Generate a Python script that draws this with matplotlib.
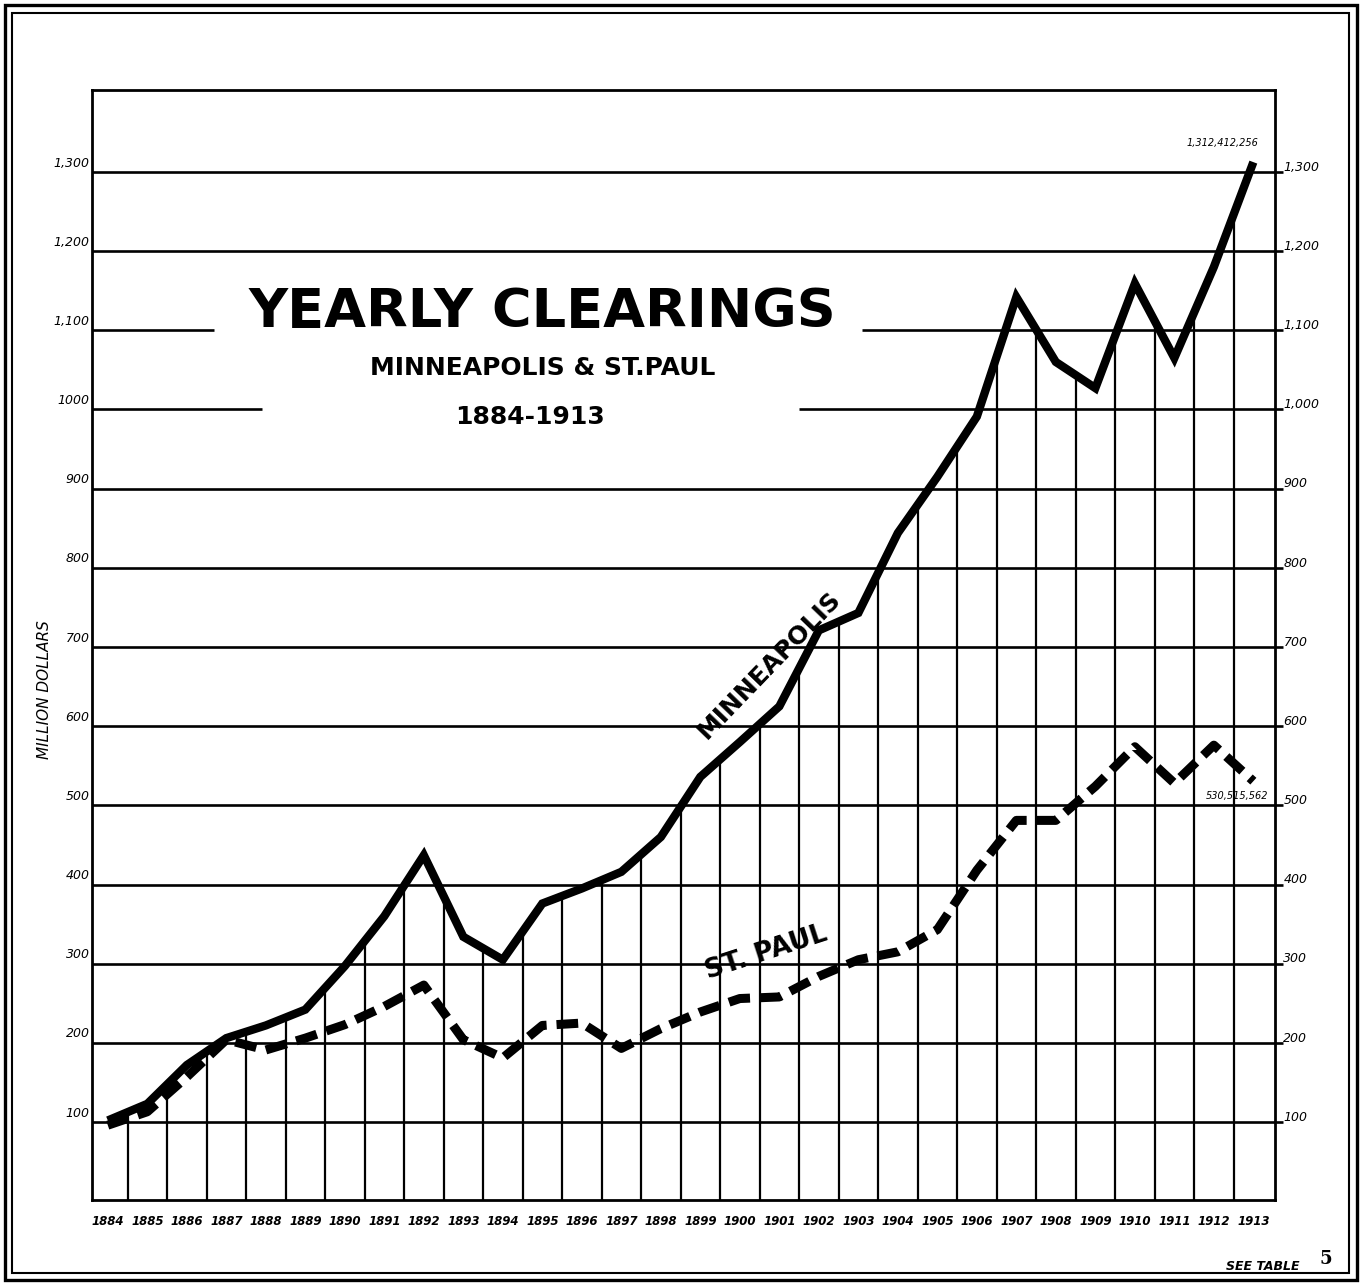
import numpy as np
import matplotlib
matplotlib.use("Agg")
import matplotlib.pyplot as plt
from matplotlib.patches import Rectangle
from matplotlib.transforms import blended_transform_factory

# yearly bank clearings, million dollars
years = list(range(1884, 1914))
minneapolis = [102, 123, 172, 206, 222, 242, 297, 360, 437, 334, 305, 376,
               395, 416, 460, 536, 580, 625, 721, 743, 844, 915, 991, 1142,
               1060, 1027, 1159, 1065, 1180, 1312.412256]
st_paul = [96, 113, 157, 204, 191, 206, 223, 246, 273, 204, 181, 222,
           225, 193, 218, 239, 256, 258, 284, 305, 315, 343, 418, 481,
           481, 524, 574, 528, 576, 530.515562]

grid_values = list(range(100, 1400, 100))
left_labels = ["100", "200", "300", "400", "500", "600", "700", "800",
               "900", "1000", "1,100", "1,200", "1,300"]
right_labels = ["100", "200", "300", "400", "500", "600", "700", "800",
                "900", "1,000", "1,100", "1,200", "1,300"]
# pieces of the 1,000 and 1,100 rules left out behind the heading
grid_gaps = {1100: (1886.7, 1903.1), 1000: (1887.9, 1901.5)}

fig = plt.figure(figsize=(13.63, 12.84), dpi=100)
ax = fig.add_axes([0.0675, 0.0654, 0.868, 0.8645])
ax.set_xlim(1883.6, 1913.55)
ax.set_ylim(1.5, 1403.5)

# horizontal rules, running a little past the right edge
x_end = 1913.75
for v in grid_values:
    if v in grid_gaps:
        a, b = grid_gaps[v]
        segs = [(1883.6, a), (b, x_end)]
    else:
        segs = [(1883.6, x_end)]
    for x0, x1 in segs:
        ax.plot([x0, x1], [v, v], color="black", lw=1.9, clip_on=False,
                solid_capstyle="butt", zorder=2)

# vertical rules between the years, up to the Minneapolis line
mids = np.arange(1884.5, 1913, 1.0)
tops = np.interp(mids, years, minneapolis)
ax.vlines(mids, 0, tops, color="black", lw=1.6, zorder=2)

ax.plot(years, minneapolis, color="black", lw=6.0, solid_joinstyle="miter",
        solid_capstyle="butt", zorder=4)
ax.plot(years, st_paul, color="black", lw=6.5, dashes=(2.4, 1.1),
        dash_capstyle="butt", zorder=4)

for s in ax.spines.values():
    s.set_linewidth(2.0)

ax.set_xticks(years)
ax.set_xticklabels([str(y) for y in years], fontsize=8.5, fontstyle="italic",
                   fontweight="bold")
ax.tick_params(axis="x", length=0, pad=11)
ax.set_yticks([])

tr = blended_transform_factory(ax.transAxes, ax.transData)
for v, lab in zip(grid_values, left_labels):
    ax.text(-0.002, v + 3, lab, transform=tr, ha="right", va="bottom",
            fontsize=9, fontstyle="italic")
for v, lab in zip(grid_values, right_labels):
    ax.text(1.007, v + 6, lab, transform=tr, ha="left", va="center",
            fontsize=9, fontstyle="italic")

ax.text(-0.04, 0.46, "MILLION DOLLARS", transform=ax.transAxes,
        rotation=90, ha="center", va="center", fontsize=11,
        fontstyle="italic")

# heading
ax.text(1895.0, 1123, "YEARLY CLEARINGS", ha="center", va="center",
        fontsize=39, fontweight="bold")
ax.text(1895.0, 1052, "MINNEAPOLIS & ST.PAUL", ha="center", va="center",
        fontsize=18, fontweight="bold")
ax.text(1894.7, 990, "1884-1913", ha="center", va="center",
        fontsize=18, fontweight="bold")

# line names
ax.text(1900.76, 677, "MINNEAPOLIS", rotation=46, ha="center", va="center",
        fontsize=18, fontweight="bold")
ax.text(1900.68, 314, "ST. PAUL", rotation=18, ha="center", va="center",
        fontsize=19, fontweight="bold")

# 1913 totals
ax.annotate("1,312,412,256", xy=(years[-1], minneapolis[-1]),
            xytext=(-48, 14), textcoords="offset points", ha="left",
            va="center", fontsize=7, fontstyle="italic")
ax.annotate("530,515,562", xy=(years[-1], st_paul[-1]),
            xytext=(11, -11), textcoords="offset points", ha="right",
            va="center", fontsize=7, fontstyle="italic")

fig.text(1300 / 1363, 1 - 1266 / 1284, "SEE TABLE", ha="right", va="center",
         fontsize=9, fontstyle="italic", fontweight="bold")
fig.text(1326 / 1363, 1 - 1259 / 1284, "5", ha="center", va="center",
         fontsize=13, fontweight="bold", family="DejaVu Serif")

# double border round the sheet
W, H = 1363, 1284
fig.add_artist(Rectangle((5 / W, 4 / H), 1352 / W, 1275 / H, fill=False,
                         lw=2.4, ec="black", transform=fig.transFigure))
fig.add_artist(Rectangle((12 / W, 11 / H), 1337 / W, 1260 / H, fill=False,
                         lw=1.5, ec="black", transform=fig.transFigure))

fig.savefig("out.png", dpi=100)
